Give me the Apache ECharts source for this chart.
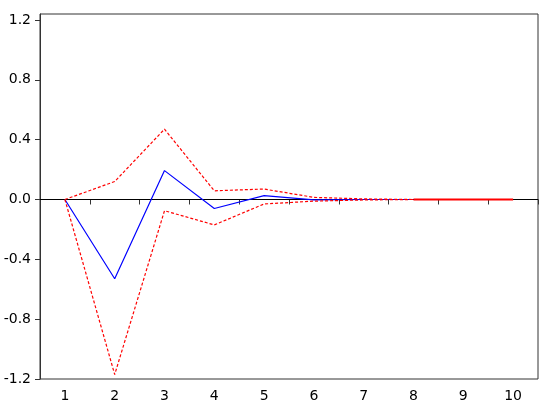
<!DOCTYPE html>
<html>
<head>
<meta charset="utf-8">
<script src="https://cdn.jsdelivr.net/npm/echarts@6/dist/echarts.min.js"></script>
<style>html,body{margin:0;padding:0;background:#fff;}#c{width:550px;height:410px;}</style>
</head>
<body>
<div id="c"></div>
<script>
const periods = ['1','2','3','4','5','6','7','8','9','10'];
const response = [0, -0.53, 0.193, -0.06, 0.026, -0.003, 0.0, 0.0, null, null];
const upperBand = [0, 0.12, 0.47, 0.058, 0.07, 0.014, 0.004, 0.0, 0.0, 0.0];
const lowerBand = [0, -1.17, -0.075, -0.17, -0.03, -0.011, -0.003, 0.0, 0.0, 0.0];
const tailBand = [null, null, null, null, null, null, null, 0.0, 0.0, 0.0];
const yTicks = [-1.2, -0.8, -0.4, 0.0, 0.4, 0.8, 1.2];

const chart = echarts.init(document.getElementById('c'), null, {renderer: 'canvas'});
const font = {fontFamily: 'DejaVu Sans', fontSize: 14, color: '#000'};
chart.setOption({
  animation: false,
  backgroundColor: '#fff',
  grid: {left: 40, right: 12, top: 14, bottom: 31, show: true, borderColor: '#333', borderWidth: 1},
  xAxis: {
    type: 'category', data: periods, boundaryGap: true,
    axisLine: {lineStyle: {color: '#333', width: 1}},
    axisTick: {show: true, length: 5, inside: false, interval: 0, lineStyle: {color: '#333'}},
    axisLabel: Object.assign({margin: 10, interval: 0}, font),
    splitLine: {show: false}
  },
  yAxis: {
    type: 'value', min: -1.2, max: 1.24,
    axisLine: {show: true, lineStyle: {color: '#333', width: 1}},
    axisTick: {show: true, length: 5, inside: false, customValues: yTicks, lineStyle: {color: '#333'}},
    axisLabel: Object.assign({margin: 9, customValues: yTicks, formatter: v => v.toFixed(1)}, font),
    splitLine: {show: false}
  },
  series: [
    {
      type: 'line', data: response, symbol: 'none', z: 2,
      lineStyle: {color: '#0000ff', width: 1.2},
      markLine: {
        silent: true, symbol: 'none', label: {show: false}, z: 1,
        lineStyle: {color: '#000', width: 1, type: 'solid'},
        data: [{yAxis: 0}]
      }
    },
    {
      type: 'line', data: upperBand, symbol: 'none', z: 3,
      lineStyle: {color: '#ff0000', width: 1.2, type: [3, 2]}
    },
    {
      type: 'line', data: lowerBand, symbol: 'none', z: 3,
      lineStyle: {color: '#ff0000', width: 1.2, type: [3, 2]}
    },
    {
      type: 'line', data: tailBand, symbol: 'none', z: 5,
      lineStyle: {color: '#ff0000', width: 2, type: 'solid'}
    }
  ]
});
</script>
</body>
</html>
